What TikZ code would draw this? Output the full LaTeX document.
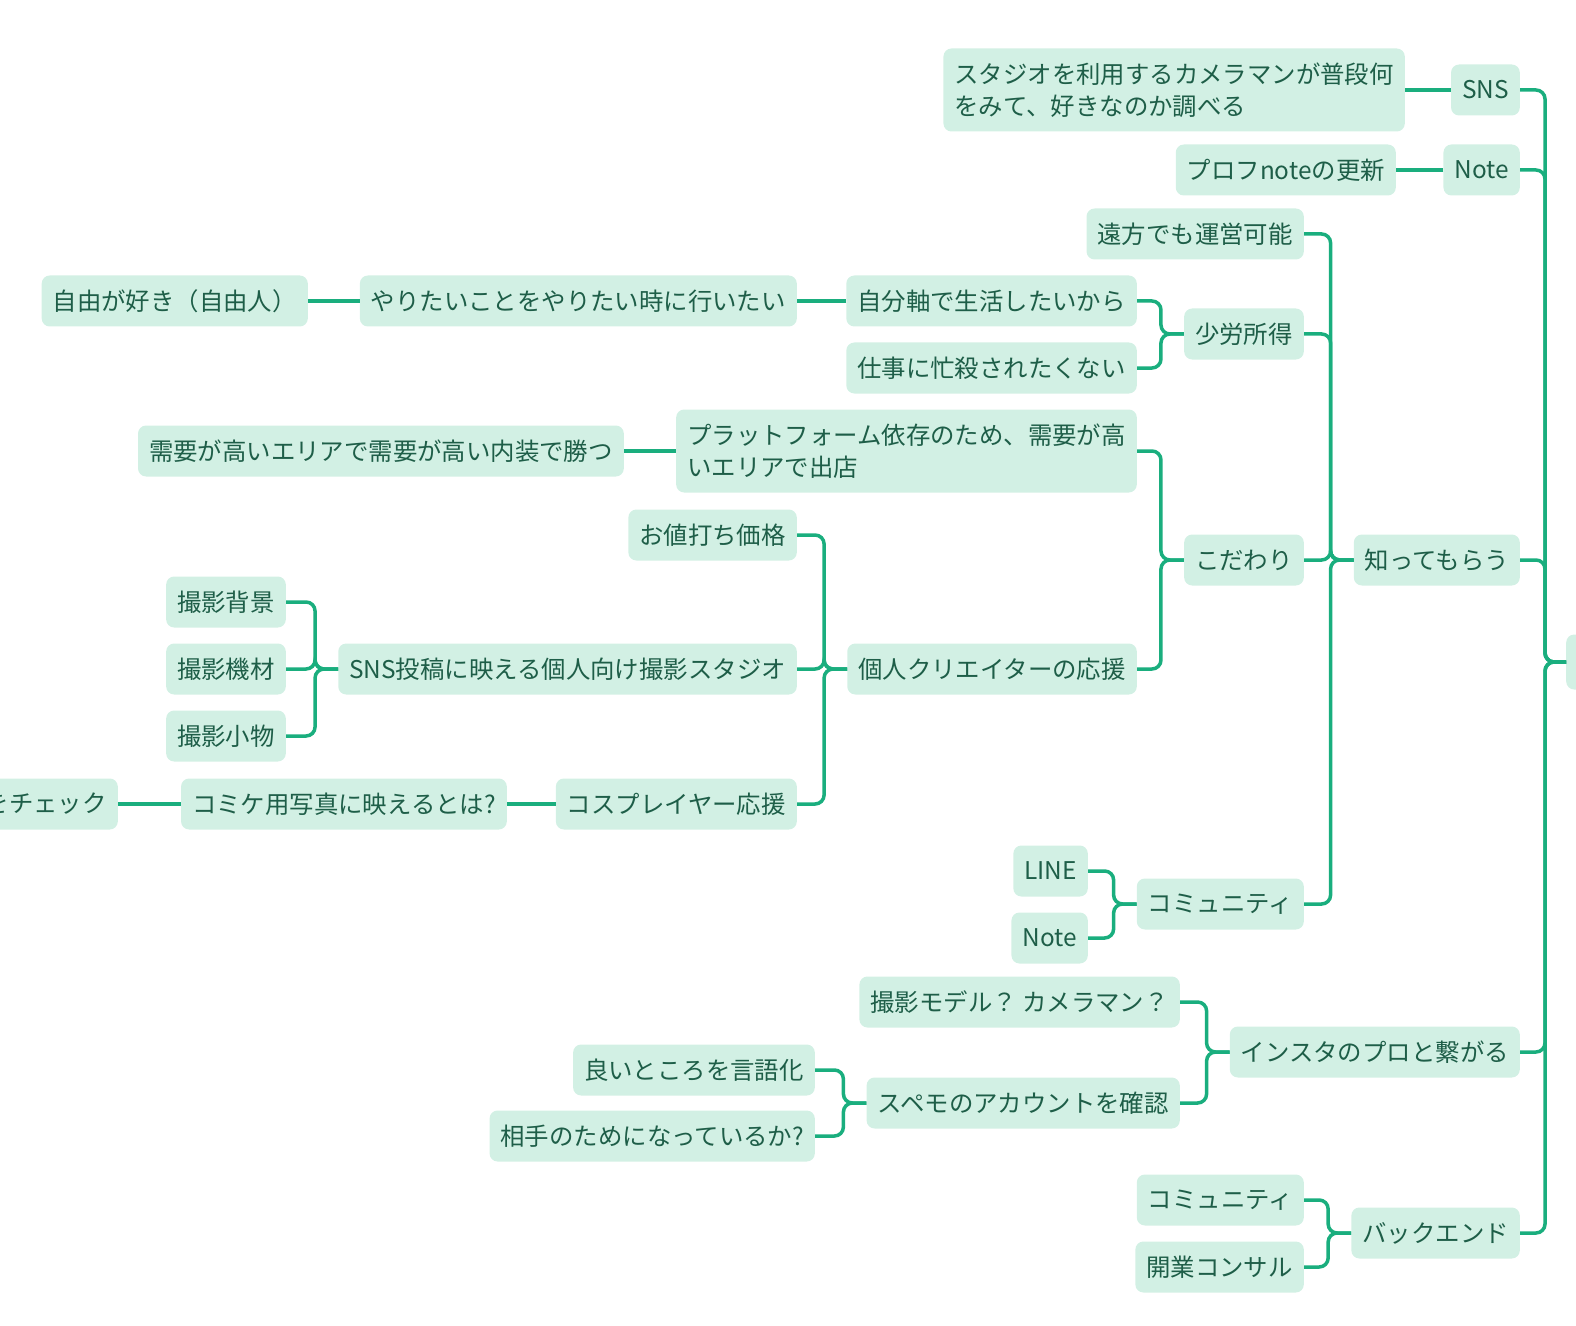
\documentclass[tikz,border=0pt]{standalone}
\usepackage{fontspec}
\setmainfont{Noto Sans CJK JP}
\usetikzlibrary{positioning}
\definecolor{mintbg}{HTML}{D2F0E4}
\definecolor{minttext}{HTML}{1E5E48}
\definecolor{mintline}{HTML}{1AAE7E}
\tikzstyle{topic} = [rectangle, rounded corners=8bp, fill=mintbg, text=minttext, anchor=east, minimum height=51bp, inner xsep=11bp, font=\fontsize{24.5}{32}\selectfont]
\tikzstyle{link} = [line width=3.5bp, mintline, rounded corners=9bp]
\newcommand{\branch}[3][23]{\draw[link] (#2.west) -- ++(-#1,0) |- (#3.east);}
\newcommand{\straight}[2]{\draw[link] (#1.west) -- (#2.east);}

\begin{document}
\begin{tikzpicture}[x=1bp, y=-1bp]
    \clip (0,0) rectangle (1576,1326);

    % Root (cut off at right edge)
    \node (root) [topic, anchor=west, minimum width=60bp, minimum height=55bp] at (1566,662) {};

    % Level 1
    \node (sns)    [topic] at (1520,90)   {SNS};
    \node (note)   [topic] at (1520,170)  {Note};
    \node (know)   [topic] at (1520,560)  {知ってもらう};
    \node (insta)  [topic] at (1520,1052) {インスタのプロと繋がる};
    \node (back)   [topic] at (1520,1233) {バックエンド};

    % SNS / Note
    \node (study)  [topic, align=left, minimum height=83bp] at (1405,90) {スタジオを利用するカメラマンが普段何\\をみて、好きなのか調べる};
    \node (prof)   [topic] at (1396,170) {プロフnoteの更新};

    % Level 2 under know
    \node (remote) [topic] at (1304,234) {遠方でも運営可能};
    \node (income) [topic] at (1304,334) {少労所得};
    \node (kodawa) [topic] at (1304,560) {こだわり};
    \node (commu)  [topic] at (1304,904) {コミュニティ};

    % income
    \node (self)   [topic] at (1137,301) {自分軸で生活したいから};
    \node (busy)   [topic] at (1137,368) {仕事に忙殺されたくない};
    \node (want)   [topic] at (797,301)  {やりたいことをやりたい時に行いたい};
    \node (free)   [topic] at (308,301)  {自由が好き（自由人）};

    % kodawa
    \node (plat)   [topic, align=left, minimum height=83bp] at (1137,451) {プラットフォーム依存のため、需要が高\\いエリアで出店};
    \node (demand) [topic] at (624,451)  {需要が高いエリアで需要が高い内装で勝つ};
    \node (creator)[topic] at (1137,669) {個人クリエイターの応援};
    \node (price)  [topic] at (797,535)  {お値打ち価格};
    \node (studio) [topic] at (797,669)  {SNS投稿に映える個人向け撮影スタジオ};
    \node (cos)    [topic] at (797,804)  {コスプレイヤー応援};
    \node (bg)     [topic] at (286,602)  {撮影背景};
    \node (equip)  [topic] at (286,669)  {撮影機材};
    \node (props)  [topic] at (286,736)  {撮影小物};
    \node (comike) [topic] at (507,804)  {コミケ用写真に映えるとは?};
    \node (check)  [topic] at (118,804)  {をチェック};

    % commu
    \node (line)   [topic] at (1088,871) {LINE};
    \node (note2)  [topic] at (1088,938) {Note};

    % insta
    \node (model)  [topic] at (1180,1002) {撮影モデル？ カメラマン？};
    \node (spemo)  [topic] at (1180,1103) {スペモのアカウントを確認};
    \node (good)   [topic] at (815,1070) {良いところを言語化};
    \node (other)  [topic] at (815,1136) {相手のためになっているか?};

    % back
    \node (commu2) [topic] at (1304,1200) {コミュニティ};
    \node (consul) [topic] at (1304,1267) {開業コンサル};

    % Links
    \foreach \c in {sns,note,know,insta,back} {\branch[21]{root}{\c}}
    \straight{sns}{study}
    \straight{note}{prof}
    \foreach \c in {remote,income,kodawa,commu} {\branch{know}{\c}}
    \foreach \c in {self,busy} {\branch{income}{\c}}
    \straight{self}{want}
    \straight{want}{free}
    \foreach \c in {plat,creator} {\branch{kodawa}{\c}}
    \straight{plat}{demand}
    \foreach \c in {price,studio,cos} {\branch{creator}{\c}}
    \foreach \c in {bg,equip,props} {\branch{studio}{\c}}
    \straight{cos}{comike}
    \straight{comike}{check}
    \foreach \c in {line,note2} {\branch{commu}{\c}}
    \foreach \c in {model,spemo} {\branch{insta}{\c}}
    \foreach \c in {good,other} {\branch{spemo}{\c}}
    \foreach \c in {commu2,consul} {\branch{back}{\c}}

\end{tikzpicture}
\end{document}
